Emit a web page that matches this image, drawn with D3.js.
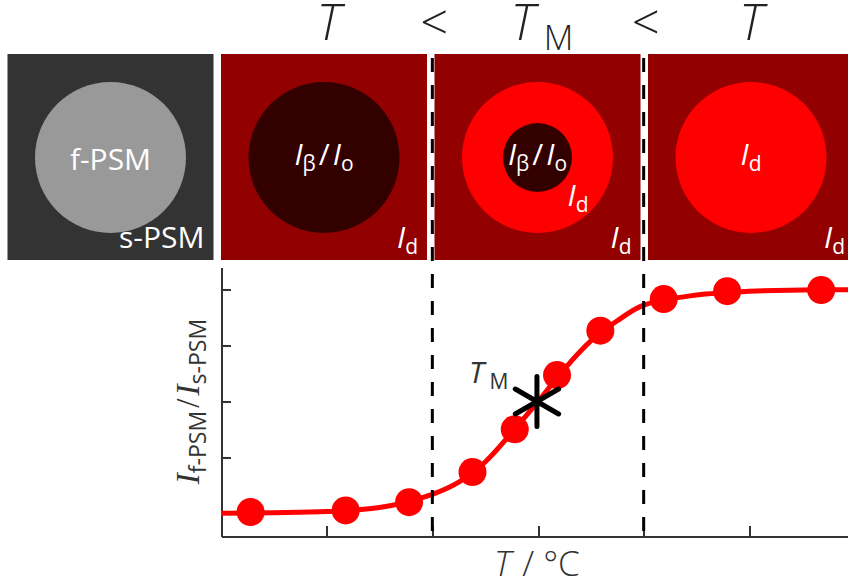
<!DOCTYPE html>
<html>
	<head>
		<meta charset="utf-8">
		<title>PSM melting curve</title>
		<style>
			body { margin: 0; background: #fff; }
			text { font-family: "Open Sans", "DejaVu Sans", sans-serif; }
			.axis path, .axis line { stroke: #333; stroke-width: 2; shape-rendering: crispEdges; }
			.axis text { display: none; }
		</style>
		<script src="https://d3js.org/d3.v7.min.js"></script>
	</head>
	<body>
		<div id="chart"></div>
		<script>
			// panels (schematic of the membrane above the curve)
			var panelIds = ["ref", "below", "melting", "above"];
			var panelBg = ["#333333", "#920000", "#920000", "#920000"];
			var panelDisk = ["#999999", "#330000", "#ff0000", "#ff0000"];
			var panelCore = [null, null, "#330000", null];
			// label parts: [text, flags, dx]  i = italic, s = subscript
			var panelCenter = [
				[["f-PSM", ""]],
				[["I", "i"], ["β", "s"], ["/", "", 3], ["I", "i", 3], ["o", "s"]],
				[["I", "i"], ["β", "s"], ["/", "", 3], ["I", "i", 3], ["o", "s"]],
				[["I", "i"], ["d", "s"]]
			];
			var panelCorner = [
				[["s-PSM", ""]],
				[["I", "i"], ["d", "s"]],
				[["I", "i"], ["d", "s"]],
				[["I", "i"], ["d", "s"]]
			];

			// top line "T < TM < T", placed on the x ticks
			var topPos = [1, 2, 3, 4, 5];
			var topText = ["T", "<", "T", "<", "T"];
			var topSub = ["", "", "M", "", ""];

			// measured points (T in tick units, normalised intensity ratio)
			var pointT = [0.28, 1.18, 1.78, 2.38, 2.78, 3.18, 3.59, 4.19, 4.79, 5.68];
			var pointV = [0.007, 0.014, 0.051, 0.185, 0.376, 0.618, 0.816, 0.957, 0.992, 0.997];

			// fitted curve
			var fitT = [0, 0.5, 1, 1.5, 2, 2.25, 2.5, 2.75, 3, 3.25, 3.5, 3.75, 4, 4.5, 5, 5.5, 6];
			var fitV = [0.002, 0.004, 0.009, 0.027, 0.086, 0.14, 0.23, 0.36, 0.5, 0.645, 0.77, 0.86, 0.93, 0.975, 0.992, 0.997, 0.999];

			var xTicks = [1, 2, 3, 4, 5];
			var yTicks = [0, 0.25, 0.5, 0.75, 1];
			var phaseBounds = [2, 4];
			var tmT = 2.99, tmV = 0.5;

			var width = 848, height = 587;

			var svg = d3.select("#chart").append("svg")
			.attr("width", width)
			.attr("height", height);

			svg.append("rect").attr("width", width).attr("height", height).attr("fill", "#fff");

			var x = d3.scaleLinear().domain([0, 6]).range([221, 855]);
			var y = d3.scaleLinear().domain([-0.1, 1.1]).range([536, 267]);

			// helper: text made of italic / subscript pieces
			function rich(t, parts, size, serif) {
				var shift = 0;
				parts.forEach(function(p) {
					var sub = p[1].indexOf("s") >= 0;
					var target = sub ? Math.round(size * 0.2) : 0;
					var ts = t.append("tspan")
					.attr("dy", target - shift)
					.style("font-size", (sub ? size * 0.7 : size) + "px")
					.text(p[0]);
					if (p[2]) ts.attr("dx", p[2]);
					if (p[1].indexOf("i") >= 0) ts.style("font-style", "italic");
					if (serif && !sub) ts.style("font-family", "'Liberation Serif', 'DejaVu Serif', serif");
					shift = target;
				});
			}

			// panels
			var pc = d3.scalePoint().domain(panelIds).range([110.5, 751]);
			var side = 206, panelTop = 54;

			var panel = svg.append("g").selectAll("g")
			.data(panelIds)
			.enter().append("g")
			.attr("transform", function(d) { return "translate(" + (pc(d) - side / 2) + "," + panelTop + ")"; });

			panel.append("rect")
			.attr("width", side)
			.attr("height", side)
			.attr("fill", function(d, i) { return panelBg[i]; });

			panel.append("circle")
			.attr("cx", side / 2).attr("cy", side / 2 + 0.5).attr("r", 75.5)
			.attr("fill", function(d, i) { return panelDisk[i]; });

			panel.filter(function(d, i) { return panelCore[i]; })
			.append("circle")
			.attr("cx", side / 2).attr("cy", side / 2 + 0.5).attr("r", 34.5)
			.attr("fill", function(d) { return panelCore[panelIds.indexOf(d)]; });

			panel.append("text")
			.attr("x", side / 2)
			.attr("y", function(d, i) { return i == 0 ? 116 : 111; })
			.attr("text-anchor", "middle")
			.attr("fill", "#fff")
			.each(function(d, i) { rich(d3.select(this), panelCenter[i], 30); });

			panel.append("text")
			.attr("x", side - 9)
			.attr("y", 194)
			.attr("text-anchor", "end")
			.attr("fill", "#fff")
			.each(function(d, i) { rich(d3.select(this), panelCorner[i], 30); });

			// extra Id inside the ring of the melting panel
			panel.filter(function(d) { return d == "melting"; })
			.append("text")
			.attr("x", 133).attr("y", 152)
			.attr("fill", "#fff")
			.call(function(t) { rich(t, [["I", "i"], ["d", "s"]], 30); });

			// top "T < TM < T"
			svg.append("g").selectAll("text")
			.data(topPos)
			.enter().append("text")
			.attr("x", function(d, i) { return x(d) + (topSub[i] ? 4 : 2); })
			.attr("y", 40)
			.attr("text-anchor", "middle")
			.attr("fill", "#222")
			.style("font-weight", 300)
			.each(function(d, i) {
				var parts = [[topText[i], topText[i] == "T" ? "i" : ""]];
				if (topSub[i]) parts.push([" " + topSub[i], "s"]);
				rich(d3.select(this), parts, 49);
			});

			// axes
			svg.append("g")
			.attr("class", "x axis")
			.attr("transform", "translate(0," + y(-0.1) + ")")
			.call(d3.axisBottom(x).tickValues(xTicks).tickSizeInner(-10).tickSizeOuter(0));

			svg.append("g")
			.attr("class", "y axis")
			.attr("transform", "translate(" + x(0) + ",0)")
			.call(d3.axisLeft(y).tickValues(yTicks).tickSizeInner(-10).tickSizeOuter(0));

			// fitted curve and points
			var line = d3.line()
			.x(function(d, i) { return x(fitT[i]); })
			.y(function(d) { return y(d); })
			.curve(d3.curveCatmullRom);

			svg.append("path")
			.datum(fitV)
			.attr("d", line)
			.attr("fill", "none")
			.attr("stroke", "#ff0000")
			.attr("stroke-width", 5);

			svg.append("g").selectAll("circle")
			.data(pointV)
			.enter().append("circle")
			.attr("cx", function(d, i) { return x(pointT[i]); })
			.attr("cy", function(d) { return y(d); })
			.attr("r", 14)
			.attr("fill", "#ff0000");

			// phase boundaries
			svg.append("g").selectAll("line")
			.data(phaseBounds)
			.enter().append("line")
			.attr("x1", function(d) { return x(d); })
			.attr("x2", function(d) { return x(d); })
			.attr("y1", 58)
			.attr("y2", y(-0.1))
			.attr("stroke", "#000")
			.attr("stroke-width", 3)
			.attr("stroke-dasharray", "14 13");

			// TM marker
			svg.append("path")
			.attr("transform", "translate(" + x(tmT) + "," + y(tmV) + ")")
			.attr("d", d3.symbol(d3.symbolAsterisk, 1768)())
			.attr("fill", "none")
			.attr("stroke", "#000")
			.attr("stroke-width", 5)
			.attr("stroke-linecap", "round");

			svg.append("text")
			.attr("x", x(tmT) - 68)
			.attr("y", y(tmV) - 19)
			.attr("fill", "#333")
			.call(function(t) { rich(t, [["T", "i"], [" M", "s"]], 30); });

			// axis titles
			svg.append("text")
			.attr("x", 494)
			.attr("y", 576)
			.attr("fill", "#333")
			.style("font-weight", 300)
			.call(function(t) { rich(t, [["T", "i"], ["/", "", 11], ["°C", "", 9]], 35); });

			svg.append("text")
			.attr("transform", "translate(199," + y(0.5) + ") rotate(-90)")
			.attr("text-anchor", "middle")
			.attr("fill", "#333")
			.call(function(t) {
				rich(t, [["I", "i"], ["f-PSM", "s"], ["/", "", 3], ["I", "i", 3], ["s-PSM", "s"]], 33, true);
			});
		</script>
	</body>
</html>
